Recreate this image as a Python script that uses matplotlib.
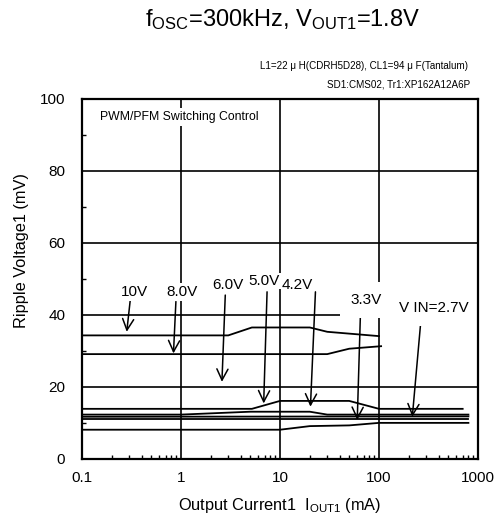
import numpy as np
import matplotlib
matplotlib.use('Agg')
import matplotlib.pyplot as plt
from matplotlib.ticker import LogLocator, NullFormatter, FixedLocator

plt.rcParams['font.family'] = ['Liberation Sans', 'DejaVu Sans']
plt.rcParams['mathtext.fontset'] = 'custom'
plt.rcParams['mathtext.rm'] = 'Liberation Sans'
plt.rcParams['mathtext.it'] = 'Liberation Sans'

###########################################################
# Ripple voltage vs output current
###########################################################

current_10v = [0.1, 3.0, 5.2, 20, 30, 100]
ripple_10v = [34.2, 34.2, 36.4, 36.4, 35.2, 34.0]

current_8v = [0.1, 30, 50, 105]
ripple_8v = [29.0, 29.0, 30.5, 31.2]

current_5v = [0.1, 5.2, 10, 50, 100, 700]
ripple_5v = [13.8, 13.8, 16.0, 16.0, 13.8, 13.8]

current_42v = [0.1, 1, 5, 20, 30, 800]
ripple_42v = [12.2, 12.2, 13.0, 13.0, 12.2, 12.2]

current_33v = [0.1, 800]
ripple_33v = [11.6, 11.7]

current_27v = [0.1, 800]
ripple_27v = [11.1, 11.1]

current_6v = [0.1, 10, 20, 50, 100, 800]
ripple_6v = [8.0, 8.0, 9.0, 9.2, 9.9, 9.9]

x_ticks = [0.1, 1, 10, 100, 1000]
x_tick_labels = ['0.1', '1', '10', '100', '1000']
y_ticks = [0, 20, 40, 60, 80, 100]

###########################################################
# Plot
###########################################################

fig = plt.figure(figsize=(5.01, 5.26), dpi=100)
ax = fig.add_axes([0.1637, 0.1283, 0.7904, 0.6844])

ax.set_xscale('log')
ax.set_xlim(0.1, 1000)
ax.set_ylim(0, 100)

series = [(current_10v, ripple_10v), (current_8v, ripple_8v),
          (current_5v, ripple_5v), (current_42v, ripple_42v),
          (current_33v, ripple_33v), (current_27v, ripple_27v),
          (current_6v, ripple_6v)]
for cur, rip in series:
    ax.plot(cur, rip, color='black', lw=1.3, zorder=2)

ax.set_xticks(x_ticks)
ax.set_xticklabels(x_tick_labels)
ax.set_yticks(y_ticks)
ax.xaxis.set_minor_locator(LogLocator(base=10, subs=np.arange(2, 10)))
ax.xaxis.set_minor_formatter(NullFormatter())
ax.yaxis.set_minor_locator(FixedLocator([10, 30, 50, 70, 90]))
ax.tick_params(which='major', length=0, labelsize=11)
ax.tick_params(axis='x', which='major', pad=9)
ax.tick_params(axis='y', which='major', pad=12)
ax.tick_params(which='minor', direction='in', length=3, width=1)
ax.grid(True, which='major', color='black', lw=1.2)
for sp in ax.spines.values():
    sp.set_linewidth(1.6)
    sp.set_zorder(6)

ax.set_ylabel('Ripple Voltage1 (mV)', fontsize=11.8)
ax.yaxis.set_label_coords(-0.134, 0.578)
ax.set_xlabel(r'Output Current1  I$_{\mathrm{OUT1}}$ (mA)', fontsize=11.8, labelpad=8)

fig.text(0.565, 0.963, r'f$_{\mathrm{OSC}}$=300kHz, V$_{\mathrm{OUT1}}$=1.8V',
         ha='center', va='center', fontsize=17)
fig.text(0.934, 0.874, 'L1=22 \u03bc H(CDRH5D28), CL1=94 \u03bc F(Tantalum)',
         ha='right', va='center', fontsize=7.1)
fig.text(0.938, 0.840, 'SD1:CMS02, Tr1:XP162A12A6P',
         ha='right', va='center', fontsize=7.1)

ax.text(0.152, 94.9, 'PWM/PFM Switching Control', fontsize=8.8, va='center',
        bbox=dict(facecolor='white', edgecolor='none', pad=2), zorder=5)

arrow = dict(arrowstyle='->', color='black', lw=1.1, mutation_scale=20,
             shrinkA=0, shrinkB=0)
labels = [('10V', (0.336, 46.3), (0.307, 44.0), (0.283, 35.2), 1.5),
          ('8.0V', (1.03, 46.3), (0.888, 43.6), (0.839, 29.2), 1.5),
          ('6.0V', (2.94, 48.2), (2.80, 45.4), (2.59, 21.3), 1.5),
          ('4.2V', (15.0, 48.3), (22.8, 46.3), (20.3, 14.4), 0.5),
          ('5.0V', (6.95, 49.3), (7.4, 46.3), (6.84, 15.3), 0.5),
          ('3.3V', (74.8, 44.0), (65.1, 41.3), (60.3, 10.7), 8),
          ('V IN=2.7V', (357, 41.8), (264, 37.9), (217, 11.6), 8)]
for txt, pos, start, tip, pad in labels:
    ax.annotate('', xy=tip, xytext=start, arrowprops=arrow, zorder=4)
    ax.text(pos[0], pos[1], txt, ha='center', va='center', fontsize=11,
            bbox=dict(facecolor='white', edgecolor='none', pad=pad), zorder=5)

fig.savefig('out.png', dpi=100)
